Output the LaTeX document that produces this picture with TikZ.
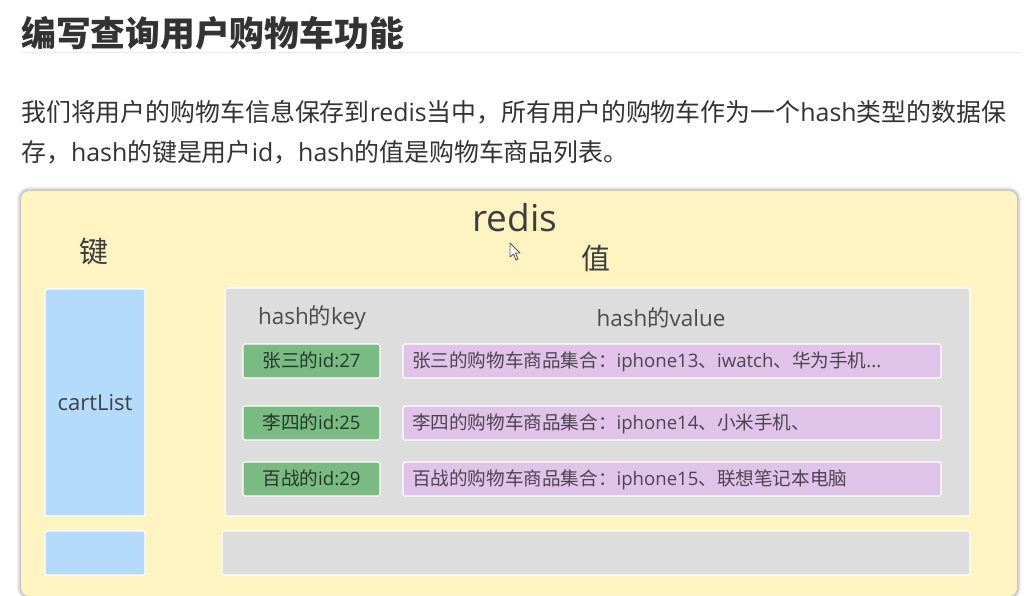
\documentclass[tikz,border=0pt]{standalone}
\usepackage{fontspec}
\setmainfont{Noto Sans CJK SC}
\newfontfamily\lat{Open Sans}
\usepackage{xcolor}
\definecolor{panelyellow}{HTML}{FEF4C2}
\definecolor{keyblue}{HTML}{B5DBFC}
\definecolor{valgray}{HTML}{DEDDDD}
\definecolor{idgreen}{HTML}{7ABB84}
\definecolor{listpurple}{HTML}{E0C3E8}
\newcommand{\fsize}[1]{\fontsize{#1}{#1}\selectfont}
\tikzset{
  box/.style={anchor=north west, draw=white, line width=1.2pt, rounded corners=2pt, inner sep=0pt, outer sep=0pt},
  keybox/.style={box, fill=keyblue, minimum width=100pt, text=black!75},
  valbox/.style={box, fill=valgray, minimum height=44pt},
  idbox/.style={box, fill=idgreen, minimum width=137pt, minimum height=34pt, text height=14pt, text depth=2pt, text=black!70!idgreen, font=\fsize{18.6}},
  listbox/.style={box, fill=listpurple, minimum height=34pt, text width=520pt, text height=14pt, text depth=2pt, inner xsep=9pt, align=left, text=black!65!listpurple, font=\fsize{18.6}},
  title/.style={text=black!76, font=\fsize{29}, inner sep=0pt},
  colhead/.style={text=black!70, font=\fsize{22.4}, inner sep=0pt},
  para/.style={anchor=west, text=black!80, font=\fsize{24.9}, inner sep=0pt},
}
\begin{document}
\begin{tikzpicture}[x=1pt, y=-1pt]
    \fill[white] (0,0) rectangle (1026,595);
    \useasboundingbox (0,0) rectangle (1026,595);

    % heading and text
    \node[anchor=west, inner sep=0pt, text=black!80, font=\fsize{34.8}\bfseries] (heading) at (21,33) {编写查询用户购物车功能};
    \coordinate (ruleL) at (21,52);
    \coordinate (ruleR) at (1020,52);
    \draw[black!8] (ruleL) -- (ruleR);
    \node[para] (line1) at (21,112) {我们将用户的购物车信息保存到{\lat redis}当中，所有用户的购物车作为一个{\lat hash}类型的数据保};
    \node[para] (line2) at (21,152) {存，{\lat hash}的键是用户{\lat id}，{\lat hash}的值是购物车商品列表。};

    % panel
    \begin{scope}
    \clip (0,0) rectangle (1026,595);
    \coordinate (panelNW) at (21,191);
    \coordinate (panelSE) at (1017,596);
    \foreach \w in {1.5,3,4.5,6,8} {
      \draw[black, opacity=.05, line width=\w pt, rounded corners=8pt, xshift=1pt, yshift=-1pt] (panelNW) rectangle (panelSE);
    }
    \node[anchor=north west, inner sep=0pt, outer sep=0pt, minimum width=996pt, minimum height=405pt, rounded corners=8pt, fill=panelyellow] (panel) at (panelNW) {};
    \end{scope}
    \node[title, font=\fsize{37}\lat] (redis) at (515,218) {redis};
    \node[title] (keytitle) at (94,252) {键};
    \node[title] (valtitle) at (596,258) {值};

    % left column
    \node[keybox, minimum height=227pt, font=\fsize{22}\lat] (cartlist) at (45,289) {cartList};
    \node[keybox, minimum height=44pt] (key2) at (45,531) {};

    % right column
    \node[valbox, minimum width=745pt, minimum height=228pt] (hash) at (225,288) {};
    \node[valbox, minimum width=748pt] (val2) at (222,531) {};
    \node[colhead] (hashkey) at (312,318) {{\lat hash}的{\lat key}};
    \node[colhead] (hashvalue) at (661,318) {{\lat hash}的{\lat value}};

    % rows
    \node[idbox] (id1) at (243,344) {张三的{\lat id:27}};
    \node[idbox] (id2) at (243,406) {李四的{\lat id:25}};
    \node[idbox] (id3) at (243,462) {百战的{\lat id:29}};
    \node[listbox] (list1) at (403,344) {张三的购物车商品集合：{\lat iphone13}、{\lat iwatch}、华为手机{\lat ...}};
    \node[listbox] (list2) at (403,406) {李四的购物车商品集合：{\lat iphone14}、小米手机、};
    \node[listbox] (list3) at (403,462) {百战的购物车商品集合：{\lat iphone15}、联想笔记本电脑};

    % mouse pointer
    \draw[black!65, fill=white, line width=.9pt, line join=round] (510,243) -- (510,257) -- (513.5,254) -- (516,260) -- (518,259) -- (515.5,253) -- (520,253) -- cycle;
\end{tikzpicture}
\end{document}
